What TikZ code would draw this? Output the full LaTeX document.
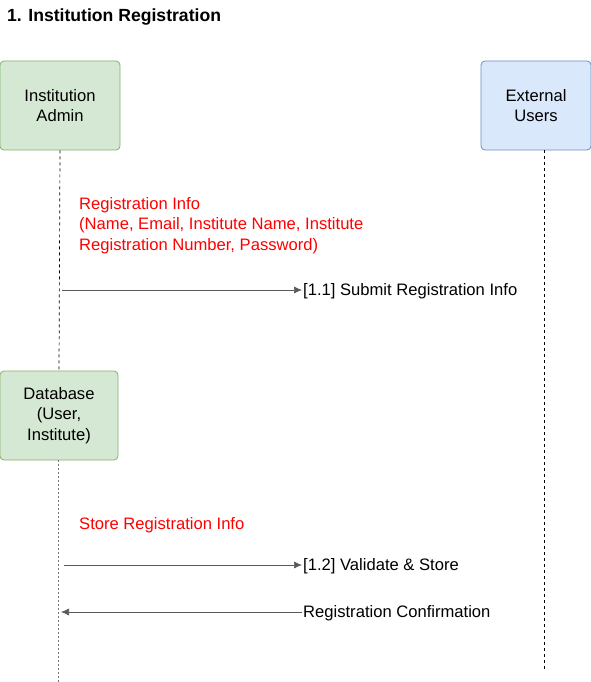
\documentclass[tikz,border=0pt]{standalone}
\usepackage{fontspec}
\setmainfont{Liberation Sans}
\usetikzlibrary{positioning,arrows.meta}
\definecolor{actgreen}{HTML}{D5E8D4}
\definecolor{actgreenline}{HTML}{82B366}
\definecolor{actblue}{HTML}{DAE8FC}
\definecolor{actblueline}{HTML}{6C8EBF}
\definecolor{msgred}{HTML}{FF0000}
\tikzset{
  actor/.style={draw=#1line, fill=#1, rounded corners=4pt, line width=.8pt,
    minimum width=120pt, minimum height=89pt, align=center, font=\fontsize{16.6}{20.5}\selectfont},
  lifeline/.style={dashed, dash pattern=on 3pt off 3pt, line width=.7pt},
  msg/.style={-{Latex[length=8pt,width=7pt]}, draw=black!65, line width=.7pt},
  lbl/.style={anchor=west, inner sep=1pt, font=\fontsize{16.6}{20}\selectfont},
  note/.style={anchor=north west, align=left, inner sep=0pt, text=msgred, font=\fontsize{16.6}{20.5}\selectfont}
}
\begin{document}
\begin{tikzpicture}[x=1pt,y=-1pt]
\useasboundingbox (0,0) rectangle (591,682);
\node[anchor=west, inner sep=0pt, font=\bfseries\fontsize{17.6}{20}\selectfont] (title) at (7,16.5) {1. Institution Registration};

\node[actor=actgreen] (admin) at (60,105.5) {Institution\\Admin};
\node[actor=actblue, minimum width=110pt] (ext) at (536,105.5) {External\\Users};
\node[actor=actgreen, minimum width=118pt, minimum height=89pt] (db) at (59,415.5) {Database\\(User,\\Institute)};

\coordinate (extend) at (544,670);
\coordinate (dbend) at (58,682);
\draw[lifeline] (admin.south) -- (db.north);
\draw[lifeline] (544,150) -- (extend);
\draw[lifeline, draw=black!55, dash pattern=on 2pt off 2pt] (db.south) ++(-1,0) -- (dbend);

\node[note] (info) at (79,197) {Registration Info\\(Name, Email, Institute Name, Institute\\Registration Number, Password)};
\node[lbl] (m11) at (302,291.5) {[1.1] Submit Registration Info};
\coordinate (a1) at (62,290);
\draw[msg] (a1) -- (m11.west |- a1);

\node[note] (store) at (79,517) {Store Registration Info};
\node[lbl] (m12) at (302,566.5) {[1.2] Validate \& Store};
\coordinate (a2) at (64,565);
\draw[msg] (a2) -- (m12.west |- a2);

\node[lbl] (conf) at (302,613.5) {Registration Confirmation};
\coordinate (a3) at (61,612);
\draw[msg] (conf.west |- a3) -- (a3);
\end{tikzpicture}
\end{document}
